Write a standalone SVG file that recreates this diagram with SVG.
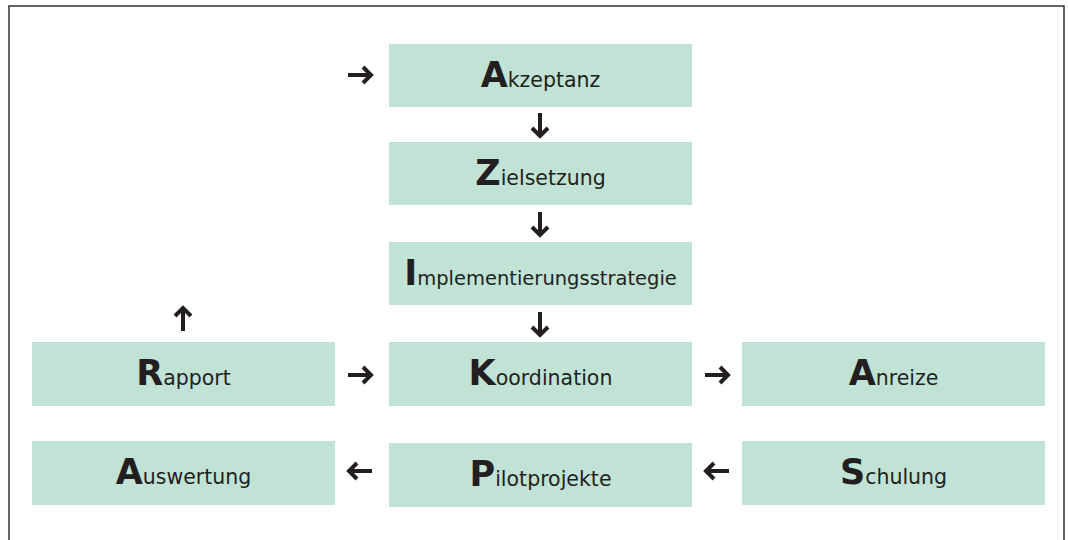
<svg xmlns="http://www.w3.org/2000/svg" width="1068" height="540" viewBox="0 0 1068 540">
<style>
.box{fill:#c0e3d6}
.lbl{font-family:"DejaVu Sans","Liberation Sans",sans-serif;font-size:20.5px;fill:#231f20;text-anchor:middle}
.ini{font-weight:bold;font-size:35px}
.arr{fill:none;stroke:#231f20;stroke-width:4;stroke-linejoin:miter;stroke-linecap:butt}
.frame{fill:none;stroke:#333333;stroke-width:1.5}
</style>
<defs>
<path id="arrow" class="arr" d="M-12,0 H10 M3,-8 L11,0 L3,8"/>
</defs>
<rect width="1068" height="540" fill="#ffffff"/>
<path class="frame" d="M9,540 V6 H1064 V540"/>
<g id="akzeptanz"><rect class="box" x="389" y="44" width="303" height="63"/><text class="lbl" x="540.5" y="87"><tspan class="ini">A</tspan>kzeptanz</text></g>
<g id="zielsetzung"><rect class="box" x="389" y="142" width="303" height="63"/><text class="lbl" x="540.5" y="185"><tspan class="ini">Z</tspan>ielsetzung</text></g>
<g id="implementierungsstrategie"><rect class="box" x="389" y="242" width="303" height="63"/><text class="lbl" x="540.5" y="285" style="font-size:19.5px"><tspan class="ini">I</tspan>mplementierungsstrategie</text></g>
<g id="rapport"><rect class="box" x="32" y="342" width="303" height="64"/><text class="lbl" x="183.5" y="385"><tspan class="ini">R</tspan>apport</text></g>
<g id="koordination"><rect class="box" x="389" y="342" width="303" height="64"/><text class="lbl" x="540.5" y="385"><tspan class="ini">K</tspan>oordination</text></g>
<g id="anreize"><rect class="box" x="742" y="342" width="303" height="64"/><text class="lbl" x="893.5" y="385"><tspan class="ini">A</tspan>nreize</text></g>
<g id="auswertung"><rect class="box" x="32" y="441" width="303" height="64"/><text class="lbl" x="183.5" y="484"><tspan class="ini">A</tspan>uswertung</text></g>
<g id="pilotprojekte"><rect class="box" x="389" y="443" width="303" height="64"/><text class="lbl" x="540.5" y="486"><tspan class="ini">P</tspan>ilotprojekte</text></g>
<g id="schulung"><rect class="box" x="742" y="441" width="303" height="64"/><text class="lbl" x="893.5" y="484"><tspan class="ini">S</tspan>chulung</text></g>
<g id="connectors">
<use href="#arrow" transform="translate(360,75)"/>
<use href="#arrow" transform="translate(540,125) rotate(90)"/>
<use href="#arrow" transform="translate(540,224) rotate(90)"/>
<use href="#arrow" transform="translate(540,324) rotate(90)"/>
<use href="#arrow" transform="translate(183,319) rotate(-90)"/>
<use href="#arrow" transform="translate(360,375)"/>
<use href="#arrow" transform="translate(717,375)"/>
<use href="#arrow" transform="translate(360,471) rotate(180)"/>
<use href="#arrow" transform="translate(717,471) rotate(180)"/>
</g>
</svg>
